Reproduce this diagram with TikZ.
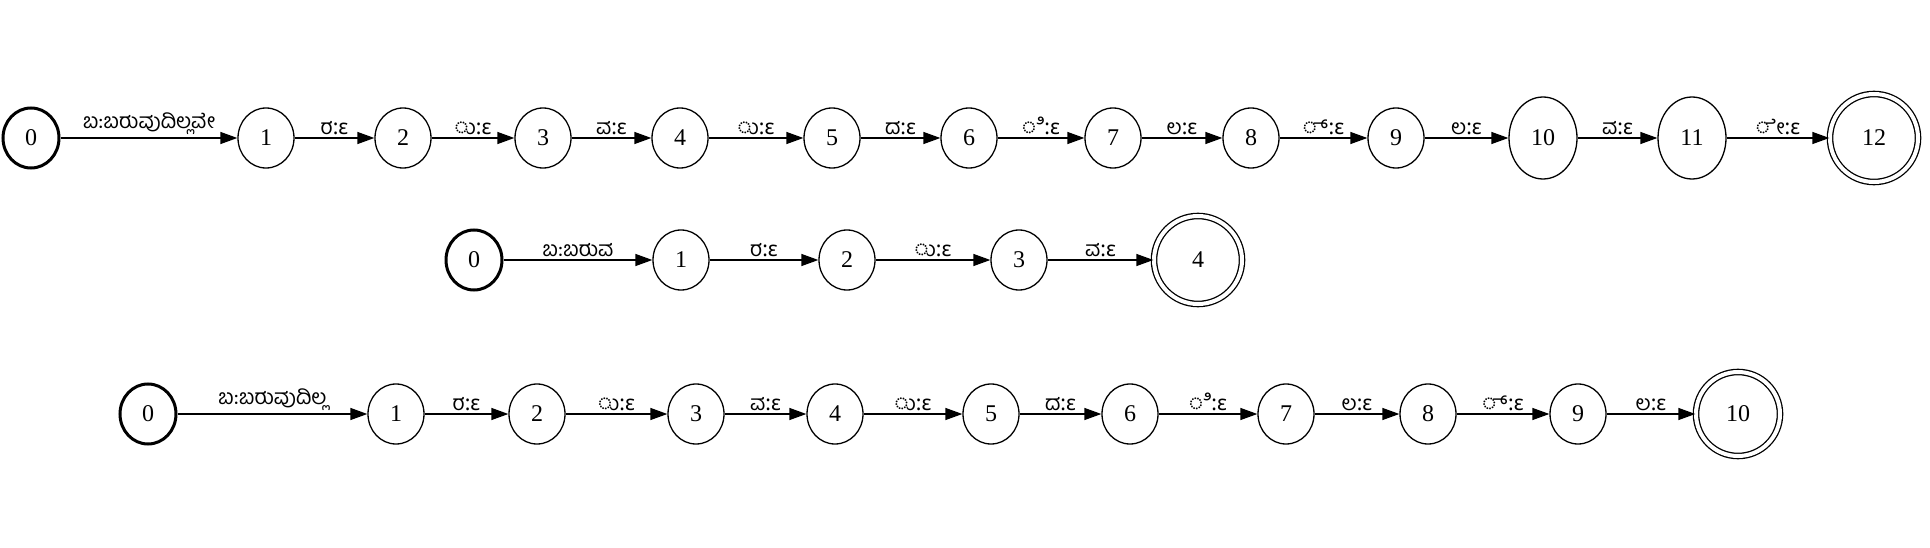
\documentclass[tikz,border=0pt]{standalone}
\usepackage{fontspec}
\setmainfont{Liberation Serif}
\newfontfamily\kn[Script=Kannada]{Hind Mysuru}
\newfontfamily\eps{Noto Sans}
\usetikzlibrary{arrows.meta,shapes.geometric}
\newcommand{\lb}[1]{{\kn #1}{\eps :ε}}
\begin{document}
\begin{tikzpicture}[x=1pt,y=-1pt,
  st/.style={draw,ellipse,line width=1.3pt,minimum width=56pt,minimum height=60pt,inner sep=0pt,font=\fontsize{24}{24}\selectfont},
  wst/.style={st,minimum width=68pt,minimum height=82pt},
  init/.style={line width=3pt},
  acc/.style={draw,circle,double,line width=1.3pt,double distance=4pt,minimum size=88pt,inner sep=0pt,font=\fontsize{24}{24}\selectfont},
  tr/.style={-{Triangle[length=17pt,width=12pt]},line width=1.3pt},
  lab/.style={above,font=\fontsize{21}{21}\selectfont,inner sep=3pt}]
\useasboundingbox (0,0) rectangle (1930,548);
% row 1
\node[st,init] (a0) at (31,138) {0};
\node[st] (a1) at (266,138) {1};
\node[st] (a2) at (403,138) {2};
\node[st] (a3) at (543,138) {3};
\node[st] (a4) at (680,138) {4};
\node[st] (a5) at (832,138) {5};
\node[st] (a6) at (969,138) {6};
\node[st] (a7) at (1113,138) {7};
\node[st] (a8) at (1251,138) {8};
\node[st] (a9) at (1396,138) {9};
\node[wst] (a10) at (1543,138) {10};
\node[wst] (a11) at (1692,138) {11};
\node[acc] (a12) at (1874,138) {12};
\draw[tr] (a0) -- node[lab]{\kn ಬ:ಬರುವುದಿಲ್ಲವೇ} (a1);
\draw[tr] (a1) -- node[lab]{\lb{ರ}} (a2);
\draw[tr] (a2) -- node[lab]{\lb{ು}} (a3);
\draw[tr] (a3) -- node[lab]{\lb{ವ}} (a4);
\draw[tr] (a4) -- node[lab]{\lb{ು}} (a5);
\draw[tr] (a5) -- node[lab]{\lb{ದ}} (a6);
\draw[tr] (a6) -- node[lab]{\lb{ಿ}} (a7);
\draw[tr] (a7) -- node[lab]{\lb{ಲ}} (a8);
\draw[tr] (a8) -- node[lab]{\lb{್}} (a9);
\draw[tr] (a9) -- node[lab]{\lb{ಲ}} (a10);
\draw[tr] (a10) -- node[lab]{\lb{ವ}} (a11);
\draw[tr] (a11) -- node[lab]{\lb{ೇ}} (a12);
% row 2
\node[st,init] (b0) at (474,260) {0};
\node[st] (b1) at (681,260) {1};
\node[st] (b2) at (847,260) {2};
\node[st] (b3) at (1019,260) {3};
\node[acc] (b4) at (1198,260) {4};
\draw[tr] (b0) -- node[lab]{\kn ಬ:ಬರುವ} (b1);
\draw[tr] (b1) -- node[lab]{\lb{ರ}} (b2);
\draw[tr] (b2) -- node[lab]{\lb{ು}} (b3);
\draw[tr] (b3) -- node[lab]{\lb{ವ}} (b4);
% row 3
\node[st,init] (c0) at (148,414) {0};
\node[st] (c1) at (396,414) {1};
\node[st] (c2) at (537,414) {2};
\node[st] (c3) at (696,414) {3};
\node[st] (c4) at (835,414) {4};
\node[st] (c5) at (991,414) {5};
\node[st] (c6) at (1130,414) {6};
\node[st] (c7) at (1286,414) {7};
\node[st] (c8) at (1428,414) {8};
\node[st] (c9) at (1578,414) {9};
\node[acc,minimum size=84pt] (c10) at (1738,414) {10};
\draw[tr] (c0) -- node[lab]{\kn ಬ:ಬರುವುದಿಲ್ಲ} (c1);
\draw[tr] (c1) -- node[lab]{\lb{ರ}} (c2);
\draw[tr] (c2) -- node[lab]{\lb{ು}} (c3);
\draw[tr] (c3) -- node[lab]{\lb{ವ}} (c4);
\draw[tr] (c4) -- node[lab]{\lb{ು}} (c5);
\draw[tr] (c5) -- node[lab]{\lb{ದ}} (c6);
\draw[tr] (c6) -- node[lab]{\lb{ಿ}} (c7);
\draw[tr] (c7) -- node[lab]{\lb{ಲ}} (c8);
\draw[tr] (c8) -- node[lab]{\lb{್}} (c9);
\draw[tr] (c9) -- node[lab]{\lb{ಲ}} (c10);
\end{tikzpicture}
\end{document}
